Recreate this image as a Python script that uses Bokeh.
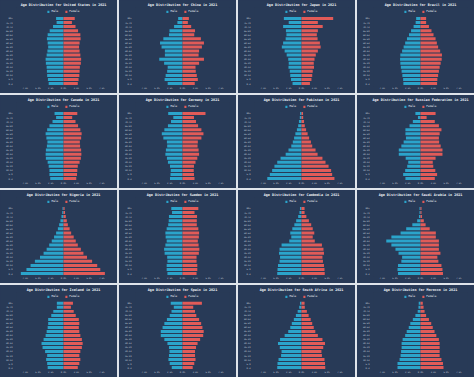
from bokeh.plotting import figure
from bokeh.layouts import gridplot
from bokeh.models import (ColumnDataSource, FixedTicker, Legend, LegendItem,
                          CustomJSTickFormatter, Range1d)
from bokeh.embed import file_html
from bokeh.resources import INLINE

# ---------------- data (percent of total population, 0-4 first) ----------------
age_groups = ["0-4", "5-9", "10-14", "15-19", "20-24", "25-29", "30-34", "35-39",
              "40-44", "45-49", "50-54", "55-59", "60-64", "65-69", "70-74", "75-79", "80+"]
year = "2021"
x_ticks = [-7.5, -5.0, -2.5, 0.0, 2.5, 5.0, 7.5]

countries = ["United States", "China", "Japan", "Brazil",
             "Canada", "Germany", "Pakistan", "Russian Federation",
             "Nigeria", "Sweden", "Cambodia", "Saudi Arabia",
             "Iceland", "Spain", "South Africa", "Morocco"]

us_male = [2.9, 3.05, 3.2, 3.25, 3.3, 3.45, 3.5, 3.3, 3.15, 3.0, 3.1, 3.25, 3.1, 2.7, 2.05, 1.35, 1.45]
us_female = [2.8, 2.95, 3.1, 3.15, 3.2, 3.4, 3.45, 3.3, 3.15, 3.05, 3.15, 3.35, 3.3, 2.85, 2.35, 1.65, 2.2]
china_male = [2.9, 3.5, 3.3, 3.0, 2.9, 3.6, 4.55, 3.45, 3.45, 4.1, 4.4, 3.75, 2.65, 2.55, 1.65, 1.0, 0.85]
china_female = [2.4, 3.0, 2.8, 2.6, 2.55, 3.25, 4.2, 3.15, 3.25, 3.8, 4.2, 3.6, 2.3, 2.45, 1.7, 1.05, 1.25]
japan_male = [1.75, 2.05, 2.2, 2.3, 2.55, 2.5, 2.6, 2.9, 3.3, 3.85, 3.6, 3.1, 2.95, 3.05, 3.6, 2.5, 3.45]
japan_female = [1.65, 1.95, 2.1, 2.2, 2.45, 2.4, 2.55, 2.8, 3.2, 3.75, 3.6, 3.15, 3.0, 3.2, 4.15, 3.2, 6.2]
brazil_male = [3.35, 3.4, 3.55, 3.7, 3.85, 3.95, 4.0, 3.95, 3.6, 3.3, 3.0, 2.65, 2.25, 1.85, 1.35, 0.95, 0.85]
brazil_female = [3.25, 3.3, 3.45, 3.6, 3.75, 3.95, 4.15, 4.2, 3.85, 3.45, 3.2, 2.95, 2.55, 2.15, 1.65, 1.1, 1.1]
canada_male = [2.6, 2.75, 2.75, 2.9, 3.1, 3.45, 3.5, 3.45, 3.25, 3.15, 3.35, 3.5, 3.2, 2.75, 2.15, 1.45, 1.75]
canada_female = [2.5, 2.65, 2.7, 2.8, 3.15, 3.4, 3.5, 3.45, 3.25, 3.2, 3.45, 3.55, 3.3, 2.85, 2.35, 1.7, 2.7]
germany_male = [2.45, 2.35, 2.3, 2.45, 2.85, 3.05, 3.35, 3.25, 3.0, 3.05, 3.75, 4.05, 3.55, 2.85, 2.25, 1.8, 2.8]
germany_female = [2.35, 2.25, 2.2, 2.25, 2.55, 2.9, 3.25, 3.15, 2.95, 3.0, 3.7, 4.1, 3.7, 3.05, 2.65, 2.25, 4.5]
pakistan_male = [6.7, 6.2, 5.75, 5.3, 4.75, 4.1, 3.1, 2.55, 2.0, 1.7, 1.45, 1.2, 0.9, 0.65, 0.5, 0.33, 0.28]
pakistan_female = [6.45, 6.0, 5.8, 5.3, 4.7, 4.1, 3.15, 2.75, 2.1, 1.85, 1.5, 1.2, 0.9, 0.65, 0.5, 0.33, 0.3]
russia_male = [2.95, 3.4, 3.0, 2.6, 2.4, 2.9, 4.25, 4.25, 3.75, 3.3, 2.85, 2.95, 2.95, 2.15, 1.5, 0.5, 1.0]
russia_female = [2.8, 3.25, 2.9, 2.5, 2.4, 2.95, 4.3, 4.3, 3.95, 3.65, 3.6, 3.75, 4.1, 3.6, 2.8, 1.2, 2.95]
nigeria_male = [8.35, 7.25, 6.45, 5.6, 4.6, 3.9, 3.3, 2.8, 2.3, 1.85, 1.45, 1.1, 0.85, 0.6, 0.4, 0.25, 0.2]
nigeria_female = [8.1, 7.2, 6.6, 5.6, 4.6, 3.9, 3.4, 2.8, 2.4, 2.0, 1.5, 1.2, 0.85, 0.65, 0.45, 0.3, 0.22]
sweden_male = [2.95, 3.1, 3.1, 2.95, 3.0, 3.5, 3.6, 3.35, 3.1, 3.3, 3.35, 3.1, 2.8, 2.7, 2.65, 2.05, 2.2]
sweden_female = [2.75, 2.9, 2.9, 2.75, 2.75, 3.2, 3.3, 3.15, 3.0, 3.2, 3.25, 3.1, 2.8, 2.8, 2.85, 2.35, 3.1]
cambodia_male = [4.75, 4.7, 4.6, 4.3, 4.2, 4.4, 4.3, 3.9, 2.4, 2.0, 2.2, 1.8, 1.4, 1.05, 0.65, 0.4, 0.3]
cambodia_female = [4.55, 4.5, 4.4, 4.2, 4.1, 4.4, 4.3, 4.0, 2.6, 2.2, 2.5, 2.2, 1.9, 1.45, 0.95, 0.6, 0.6]
saudi_male = [4.4, 4.5, 4.4, 3.75, 3.6, 4.3, 4.9, 5.7, 6.7, 5.7, 3.9, 2.8, 1.6, 0.65, 0.3, 0.2, 0.2]
saudi_female = [4.4, 4.3, 4.1, 3.5, 3.3, 3.9, 3.6, 3.6, 3.6, 3.0, 3.0, 1.8, 1.0, 0.65, 0.3, 0.2, 0.2]
iceland_male = [3.1, 3.2, 3.4, 3.2, 3.6, 4.1, 4.3, 3.9, 3.5, 3.3, 3.1, 3.0, 3.0, 2.4, 2.0, 1.3, 1.3]
iceland_female = [2.8, 3.1, 3.3, 3.1, 3.3, 3.6, 3.75, 3.6, 3.3, 3.1, 3.0, 3.1, 3.0, 2.4, 2.0, 1.45, 1.85]
spain_male = [2.1, 2.5, 2.75, 2.65, 2.55, 2.65, 2.95, 3.55, 4.25, 4.25, 3.9, 3.55, 3.05, 2.5, 2.15, 1.7, 2.3]
spain_female = [2.0, 2.3, 2.55, 2.45, 2.45, 2.65, 2.95, 3.45, 4.05, 4.15, 3.9, 3.65, 3.25, 2.7, 2.45, 2.1, 3.8]
safrica_male = [4.75, 4.7, 4.5, 4.0, 3.9, 4.25, 4.6, 4.2, 3.3, 2.6, 2.2, 1.9, 1.5, 1.1, 0.75, 0.45, 0.3]
safrica_female = [4.65, 4.6, 4.5, 4.0, 3.9, 4.25, 4.6, 4.1, 3.2, 2.7, 2.4, 2.1, 1.8, 1.4, 1.05, 0.65, 0.6]
morocco_male = [4.5, 4.5, 4.1, 3.9, 3.8, 3.7, 3.7, 3.5, 3.0, 2.7, 2.3, 2.0, 1.5, 1.0, 0.55, 0.4, 0.35]
morocco_female = [4.5, 4.4, 4.1, 3.75, 3.75, 3.75, 3.75, 3.6, 3.1, 2.75, 2.4, 2.1, 1.65, 1.1, 0.8, 0.6, 0.45]

series = [(us_male, us_female), (china_male, china_female), (japan_male, japan_female),
          (brazil_male, brazil_female), (canada_male, canada_female),
          (germany_male, germany_female), (pakistan_male, pakistan_female),
          (russia_male, russia_female), (nigeria_male, nigeria_female),
          (sweden_male, sweden_female), (cambodia_male, cambodia_female),
          (saudi_male, saudi_female), (iceland_male, iceland_female),
          (spain_male, spain_female), (safrica_male, safrica_female),
          (morocco_male, morocco_female)]

# ---------------- styling ----------------
BG = "#283a57"
MALE_C = "#2ba4cb"
FEMALE_C = "#e15b58"
TXT = "#eef2f7"
TICK_TXT = "#c9d1dc"
MONO = "DejaVu Sans Mono"

row_heights = [93, 93, 93, 92]
PANEL_W = 117

figs = []
for i, (name, (m, f)) in enumerate(zip(countries, series)):
    r = i // 4
    h = row_heights[r]
    src = ColumnDataSource(dict(
        y=list(range(len(age_groups))),
        male=[-v for v in m],
        female=list(f),
    ))
    p = figure(width=PANEL_W, height=h, output_backend="svg", toolbar_location=None,
               x_range=Range1d(-9.2, 9.2), y_range=Range1d(-0.72, 18.7),
               min_border_top=7, min_border_bottom=h - 88,
               min_border_left=16, min_border_right=7)
    p.styles = {"background-color": BG}
    p.background_fill_color = BG
    p.border_fill_color = BG
    p.outline_line_color = None
    p.grid.grid_line_color = None

    p.title.text = f"Age Distribution for {name} in {year}"
    p.title.align = "center"
    p.title.text_font = MONO
    p.title.text_font_size = "3.4px"
    p.title.text_font_style = "bold"
    p.title.text_color = TXT
    p.title.standoff = 1

    rm = p.hbar(y="y", left="male", right=0, height=0.74, source=src,
                fill_color=MALE_C, line_color=None)
    rf = p.hbar(y="y", left=0, right="female", height=0.74, source=src,
                fill_color=FEMALE_C, line_color=None)

    legend = Legend(items=[LegendItem(label="Male", renderers=[rm]),
                           LegendItem(label="Female", renderers=[rf])],
                    location="top_center", orientation="horizontal",
                    glyph_width=3, glyph_height=3, label_height=3, label_width=1,
                    label_standoff=2, spacing=6, padding=0, margin=2,
                    label_text_font=MONO, label_text_font_size="2.8px",
                    label_text_color=TXT, background_fill_alpha=0,
                    border_line_alpha=0)
    p.add_layout(legend)

    p.xaxis.ticker = FixedTicker(ticks=x_ticks)
    p.xaxis.formatter = CustomJSTickFormatter(code="return Math.abs(tick).toFixed(1) + '%';")
    p.yaxis.ticker = FixedTicker(ticks=list(range(len(age_groups))))
    p.yaxis.formatter = CustomJSTickFormatter(args=dict(labels=age_groups),
                                              code="return labels[Math.round(tick)] || '';")
    for ax in (p.xaxis, p.yaxis):
        ax.axis_line_color = None
        ax.major_tick_line_color = None
        ax.minor_tick_line_color = None
        ax.major_tick_out = 0
        ax.major_tick_in = 0
        ax.major_label_text_font = MONO
        ax.major_label_text_font_size = "2.2px"
        ax.major_label_text_color = TICK_TXT
    p.xaxis.major_label_standoff = 1
    p.yaxis.major_label_standoff = 4
    figs.append(p)

grid = gridplot([figs[k:k + 4] for k in range(0, 16, 4)], toolbar_location=None)
grid.spacing = 2
grid.styles = {"background-color": "#dfe4ea"}

open("out.html", "w").write(file_html(grid, INLINE))
